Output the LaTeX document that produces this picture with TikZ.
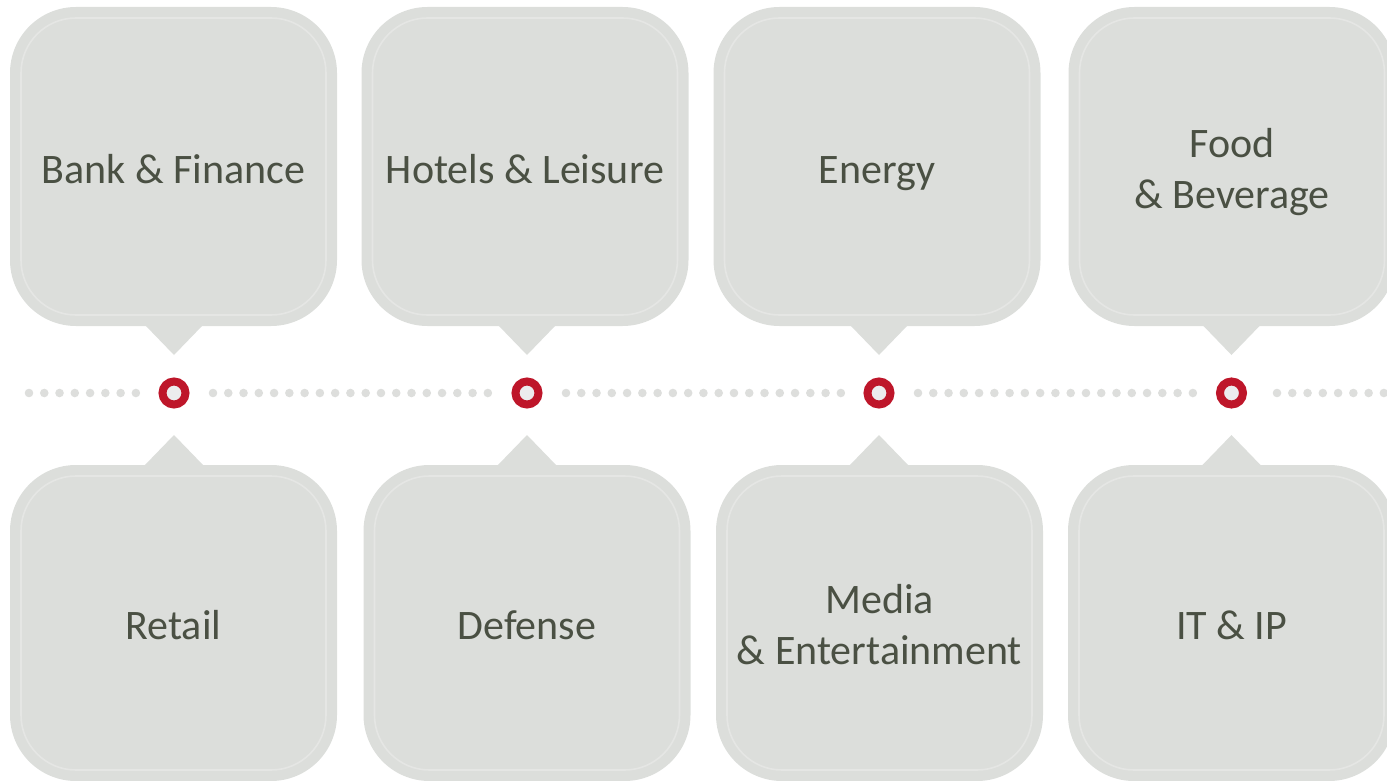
\documentclass[tikz,border=0pt]{standalone}
\usepackage{fontspec}
\setmainfont{Carlito}
\usetikzlibrary{calc, positioning}
\definecolor{boxgray}{RGB}{220,222,219}
\definecolor{rimgray}{RGB}{229,230,228}
\definecolor{dotgray}{RGB}{221,222,220}
\definecolor{ringred}{RGB}{190,22,42}
\definecolor{ringcore}{RGB}{236,236,238}
\definecolor{labelgray}{RGB}{74,80,67}

\tikzset{
  sector/.style={fill=boxgray, rounded corners=66pt, minimum width=327pt, inner sep=0pt, outer sep=0pt,
    align=center, text=labelgray, font=\fontsize{42}{51}\selectfont,
    execute at begin node=\rule{0pt}{49pt}, execute at end node=\strut},
  upbox/.style={sector, minimum height=319pt, anchor=north},
  downbox/.style={sector, minimum height=316pt, anchor=north},
  rim/.style={draw=rimgray, line width=1.6pt, rounded corners=55pt},
  tip/.style={fill=boxgray},
  milestone/.style={circle, draw=ringred, line width=8pt, fill=ringcore, minimum size=23pt, inner sep=0pt},
}
\newcommand{\tall}{\rule{0pt}{48pt}}

\begin{document}
\begin{tikzpicture}[x=1pt, y=-1pt]
  \clip (0,0) rectangle (1387,781);
  % dotted time line
  \foreach \s/\n in {29/7, 213/18, 566/18, 918/18, 1277/7}
    \foreach \k in {0,...,\n}
      \fill[dotgray] (\s+15.27*\k, 393) circle (4.3);
  % milestones
  \node[milestone] (r1) at (174,393) {};
  \node[milestone] (r2) at (527,393) {};
  \node[milestone] (r3) at (879,393) {};
  \node[milestone] (r4) at (1231.5,393) {};
  % sectors above
  \node[upbox] (t1) at (173.5,7) {Bank \& Finance};
  \node[upbox] (t2) at (525,7) {Hotels \& Leisure};
  \node[upbox] (t3) at (877,7) {Energy};
  \node[upbox] (t4) at (1232,7) {\tall Food\\\& Beverage};
  % sectors below
  \node[downbox] (b1) at (173.5,465) {Retail};
  \node[downbox] (b2) at (527,465) {Defense};
  \node[downbox] (b3) at (879.5,465) {\tall Media\\\& Entertainment};
  \node[downbox] (b4) at (1231.5,465) {IT \& IP};
  % pointers
  \foreach \i in {1,2,3,4} {
    \fill[tip] ($(t\i.south -| r\i)+(-29pt,1pt)$) -- ($(r\i)+(0pt,38pt)$) -- ($(t\i.south -| r\i)+(29pt,1pt)$) -- cycle;
    \fill[tip] ($(b\i.north -| r\i)+(-30pt,-1pt)$) -- ($(r\i)+(0pt,-42pt)$) -- ($(b\i.north -| r\i)+(30pt,-1pt)$) -- cycle;
  }
  % inner rims
  \foreach \n in {t1,t2,t3,t4,b1,b2,b3,b4}
    \draw[rim] ([shift={(11pt,11pt)}]\n.south west) rectangle ([shift={(-11pt,-11pt)}]\n.north east);
\end{tikzpicture}
\end{document}
